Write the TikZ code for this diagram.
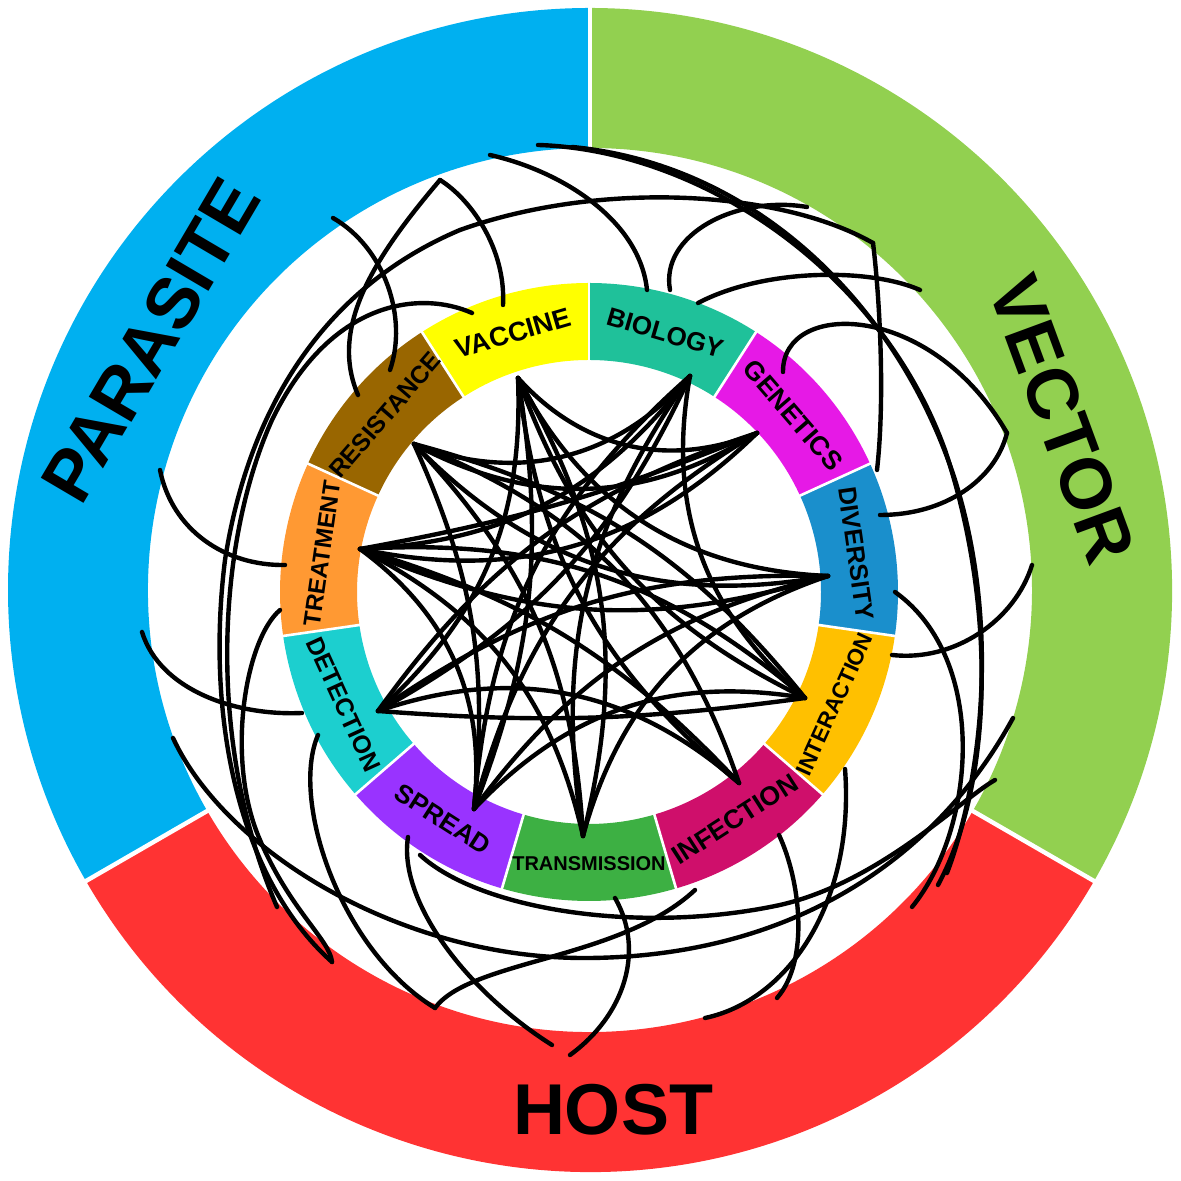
\documentclass[tikz,border=0pt]{standalone}
\usepackage{fontspec}
\setmainfont{Liberation Sans}
\usetikzlibrary{calc}
\definecolor{cpar}{HTML}{00B0F0}
\definecolor{cvec}{HTML}{92D050}
\definecolor{chost}{HTML}{FF3333}
\definecolor{cvac}{HTML}{FFFF00}
\definecolor{cres}{HTML}{996600}
\definecolor{ctrt}{HTML}{FF9933}
\definecolor{cdet}{HTML}{1CCFCF}
\definecolor{cspr}{HTML}{9933FF}
\definecolor{ctrn}{HTML}{3DB043}
\definecolor{cinf}{HTML}{CF0F6B}
\definecolor{cint}{HTML}{FFC000}
\definecolor{cdiv}{HTML}{1A8FCC}
\definecolor{cgen}{HTML}{E619E6}
\definecolor{cbio}{HTML}{1FC19A}
\tikzset{
  cv/.style={draw=black, line width=2.2pt, line cap=round},
  lab/.style={inner sep=0pt, text=black},
  big/.style={inner sep=0pt, text=black, font=\bfseries\fontsize{36}{36}\selectfont},
}
\newcommand\lnk[3]{\draw[cv] (#1) to[#3] (#2);}
\newcommand\ringseg[6]{% colour, centre, a1, a2, rin, rout
  \fill[#1] ($(#2)+(#3:#6)$) arc[start angle=#3, end angle=#4, radius=#6]
    -- ($(#2)+(#4:#5)$) arc[start angle=#4, end angle=#3, radius=#5] -- cycle;}
\begin{document}
\begin{tikzpicture}[x=0.5pt,y=0.5pt]
\useasboundingbox (0,0) rectangle (1181,1181);
\fill[white] (0,0) rectangle (1181,1181);
\coordinate (oc) at (590,591);
\coordinate (ic) at (589,589);
% outer ring
\ringseg{cpar}{oc}{90}{210}{442}{582}
\ringseg{chost}{oc}{210}{330}{442}{582}
\ringseg{cvec}{oc}{-30}{90}{442}{582}
\foreach \a in {90,210,330} \draw[white,line width=2.2pt] ($(oc)+(\a:436)$) -- ($(oc)+(\a:590)$);
% inner ring
\foreach \i/\col in {0/cvac,1/cres,2/ctrt,3/cdet,4/cspr,5/ctrn,6/cinf,7/cint,8/cdiv,9/cgen,10/cbio}{
  \pgfmathsetmacro\aa{90+\i*360/11}
  \pgfmathsetmacro\bb{90+(\i+1)*360/11}
  \ringseg{\col}{ic}{\aa}{\bb}{232}{309}
}
\foreach \i in {0,...,10}{
  \pgfmathsetmacro\aa{90+\i*360/11}
  \draw[white,line width=1.3pt] ($(ic)+(\aa:229)$) -- ($(ic)+(\aa:312)$);
}
% ---------------- connectors (image coordinates) ----------------
\begin{scope}[shift={(0,1181)},yscale=-1]
% hubs on the inner ring
\coordinate (hvac) at (518,378);
\coordinate (hres) at (414,444);
\coordinate (htrt) at (360,549);
\coordinate (hdet) at (378,711);
\coordinate (hspr) at (474,809);
\coordinate (htrn) at (583,836);
\coordinate (hinf) at (739,783);
\coordinate (hint) at (805,698);
\coordinate (hdiv) at (828,576);
\coordinate (hgen) at (757,433);
\coordinate (hbio) at (690,376);
% ends on the outer ring
\coordinate (E1) at (490,155);
\coordinate (E2) at (538,145);
\coordinate (E3) at (572,147);
\coordinate (E4) at (440,180);
\coordinate (E5) at (333,218);
\coordinate (E6) at (160,470);
\coordinate (E7) at (142,632);
\coordinate (E8) at (173,738);
\coordinate (E9) at (277,907);
\coordinate (E10) at (332,962);
\coordinate (E11) at (435,1008);
\coordinate (E12) at (552,1045);
\coordinate (E13) at (570,1055);
\coordinate (E14) at (705,1018);
\coordinate (E15) at (777,998);
\coordinate (E16) at (912,907);
\coordinate (E17) at (938,885);
\coordinate (E18) at (947,873);
\coordinate (E19) at (1007,433);
\coordinate (E20) at (1032,565);
\coordinate (E21) at (1013,718);
\coordinate (E22) at (995,780);
\coordinate (E23) at (807,207);
\coordinate (E24) at (873,243);
\coordinate (E25) at (920,290);
% ends on the outside of the inner ring
\coordinate (I1) at (503,305);
\coordinate (I2) at (472,313);
\coordinate (I3) at (647,290);
\coordinate (I4) at (670,290);
\coordinate (I5) at (698,303);
\coordinate (I6) at (390,370);
\coordinate (I7) at (358,395);
\coordinate (I8) at (285,565);
\coordinate (I9) at (280,610);
\coordinate (I10) at (302,713);
\coordinate (I11) at (318,735);
\coordinate (I12) at (408,837);
\coordinate (I12b) at (420,855);
\coordinate (I13) at (615,898);
\coordinate (I14) at (695,890);
\coordinate (I15) at (845,769);
\coordinate (I16) at (880,515);
\coordinate (I17) at (895,592);
\coordinate (I18) at (892,655);
\coordinate (I19) at (783,372);
\coordinate (I20) at (779,835);
\coordinate (I21) at (877,470);
% outer arcs
\draw[cv] (E4) .. controls (472,200) and (506,250) .. (I1);
\draw[cv] (E1) .. controls (565,172) and (640,222) .. (I3);
\draw[cv] (I2) .. controls (420,290) and (330,300) .. (272,420) .. controls (218,540) and (205,740) .. (E9);
\draw[cv] (E5) .. controls (385,248) and (408,318) .. (I6);
\draw[cv] (E24) .. controls (780,190) and (600,180) .. (460,230) .. controls (330,285) and (250,400) .. (225,560) .. controls (205,720) and (240,880) .. (E10);
\draw[cv] (I4) .. controls (660,235) and (735,195) .. (E23);
\draw[cv] (I5) .. controls (765,268) and (870,268) .. (E25);
\draw[cv] (I19) .. controls (782,300) and (930,300) .. (E19);
\draw[cv] (I21) .. controls (885,400) and (880,300) .. (E24);
\draw[cv] (I16) .. controls (945,515) and (995,480) .. (E19);
\draw[cv] (I18) .. controls (955,662) and (1015,620) .. (E20);
\draw[cv] (I17) .. controls (990,660) and (975,830) .. (E16);
\draw[cv] (E2) .. controls (700,150) and (880,270) .. (945,450) .. controls (995,600) and (995,780) .. (E17);
\draw[cv] (E3) .. controls (760,165) and (900,310) .. (955,480) .. controls (1005,640) and (975,800) .. (E18);
\draw[cv] (E6) .. controls (172,530) and (225,566) .. (I8);
\draw[cv] (E7) .. controls (160,690) and (235,716) .. (I10);
\draw[cv] (I12b) .. controls (480,910) and (640,935) .. (780,905) .. controls (880,882) and (960,800) .. (E22);
\draw[cv] (E8) .. controls (225,850) and (400,960) .. (590,958) .. controls (780,956) and (930,870) .. (E21);
\draw[cv] (I11) .. controls (290,800) and (340,950) .. (E11);
\draw[cv] (I12) .. controls (398,900) and (465,990) .. (E12);
\draw[cv] (I13) .. controls (645,950) and (625,1015) .. (E13);
\draw[cv] (I20) .. controls (800,880) and (810,960) .. (E15);
\draw[cv] (E14) .. controls (790,1000) and (855,900) .. (I15);
\draw[cv] (I14) .. controls (620,960) and (470,960) .. (E11);
\draw[cv] (I9) .. controls (245,640) and (225,760) .. (260,840) .. controls (290,910) and (330,940) .. (E10);
\draw[cv] (I7) .. controls (330,330) and (370,262) .. (E4);
\end{scope}
% inner links (hub to hub), bends in page orientation
\lnk{htrt}{hdiv}{bend right=20}
\lnk{htrt}{hgen}{bend right=6}
\lnk{htrt}{hgen}{bend right=28}
\lnk{htrt}{hint}{bend left=22}
\lnk{htrt}{hinf}{bend left=15}
\lnk{htrt}{htrn}{bend left=25}
\lnk{htrt}{hspr}{bend left=30}
\lnk{htrt}{hbio}{bend right=25}
\lnk{hres}{hbio}{bend right=35}
\lnk{hres}{hdiv}{bend right=28}
\lnk{hres}{hspr}{bend left=15}
\lnk{hres}{hinf}{bend left=25}
\lnk{hres}{htrn}{bend left=20}
\lnk{hvac}{hspr}{bend left=15}
\lnk{hvac}{hdiv}{bend right=30}
\lnk{hvac}{hgen}{bend right=35}
\lnk{hvac}{hint}{bend right=22}
\lnk{hvac}{htrn}{bend left=22}
\lnk{hvac}{hdet}{bend left=25}
\lnk{hbio}{hdet}{bend left=18}
\lnk{hbio}{hint}{bend right=30}
\lnk{hbio}{htrn}{bend right=22}
\lnk{hgen}{hdet}{bend right=18}
\lnk{hgen}{hspr}{bend right=22}
\lnk{hdiv}{hdet}{bend right=18}
\lnk{hdiv}{hspr}{bend right=20}
\lnk{hdiv}{htrn}{bend right=28}
\lnk{hint}{hdet}{bend left=6}
\lnk{hint}{hspr}{bend right=28}
\lnk{hinf}{hdet}{bend right=30}
\lnk{hint}{hres}{bend right=18}
\lnk{hvac}{hinf}{bend right=22}
\lnk{hbio}{hspr}{bend right=22}
\lnk{hres}{hgen}{bend right=30}
% ---------------- labels ----------------
\node[lab,rotate=16.36,font=\bfseries\fontsize{13.5}{13.5}\selectfont] (lvac) at ($(ic)+(106.36:270)$) {VACCINE};
\node[lab,rotate=49.09,font=\bfseries\fontsize{12.3}{12.3}\selectfont] (lres) at ($(ic)+(139.09:270)$) {RESISTANCE};
\node[lab,rotate=81.82,font=\bfseries\fontsize{12}{12}\selectfont] (ltrt) at ($(ic)+(171.82:270)$) {TREATMENT};
\node[lab,rotate=-65.45,font=\bfseries\fontsize{12.5}{12.5}\selectfont] (ldet) at ($(ic)+(204.55:270)$) {DETECTION};
\node[lab,rotate=-32.73,font=\bfseries\fontsize{13}{13}\selectfont] (lspr) at ($(ic)+(237.27:270)$) {SPREAD};
\node[lab,font=\bfseries\fontsize{10}{10}\selectfont] (ltrn) at ($(ic)+(270:272)$) {TRANSMISSION};
\node[lab,rotate=32.73,font=\bfseries\fontsize{13.3}{13.3}\selectfont] (linf) at ($(ic)+(302.73:270)$) {INFECTION};
\node[lab,rotate=65.45,font=\bfseries\fontsize{11.3}{11.3}\selectfont] (lint) at ($(ic)+(335.45:270)$) {INTERACTION};
\node[lab,rotate=-81.82,font=\bfseries\fontsize{12.7}{12.7}\selectfont] (ldiv) at ($(ic)+(8.18:270)$) {DIVERSITY};
\node[lab,rotate=-49.09,font=\bfseries\fontsize{13.3}{13.3}\selectfont] (lgen) at ($(ic)+(40.91:270)$) {GENETICS};
\node[lab,rotate=-16.36,font=\bfseries\fontsize{13}{13}\selectfont] (lbio) at ($(ic)+(73.64:270)$) {BIOLOGY};
\node[big,rotate=59.5] (lpar) at ($(oc)+(150.4:505)$) {PARASITE};
\node[big,rotate=-69.8] (lvec) at ($(oc)+(19.9:502)$) {VECTOR};
\node[big] (lhost) at (613,71) {HOST};
\end{tikzpicture}
\end{document}
